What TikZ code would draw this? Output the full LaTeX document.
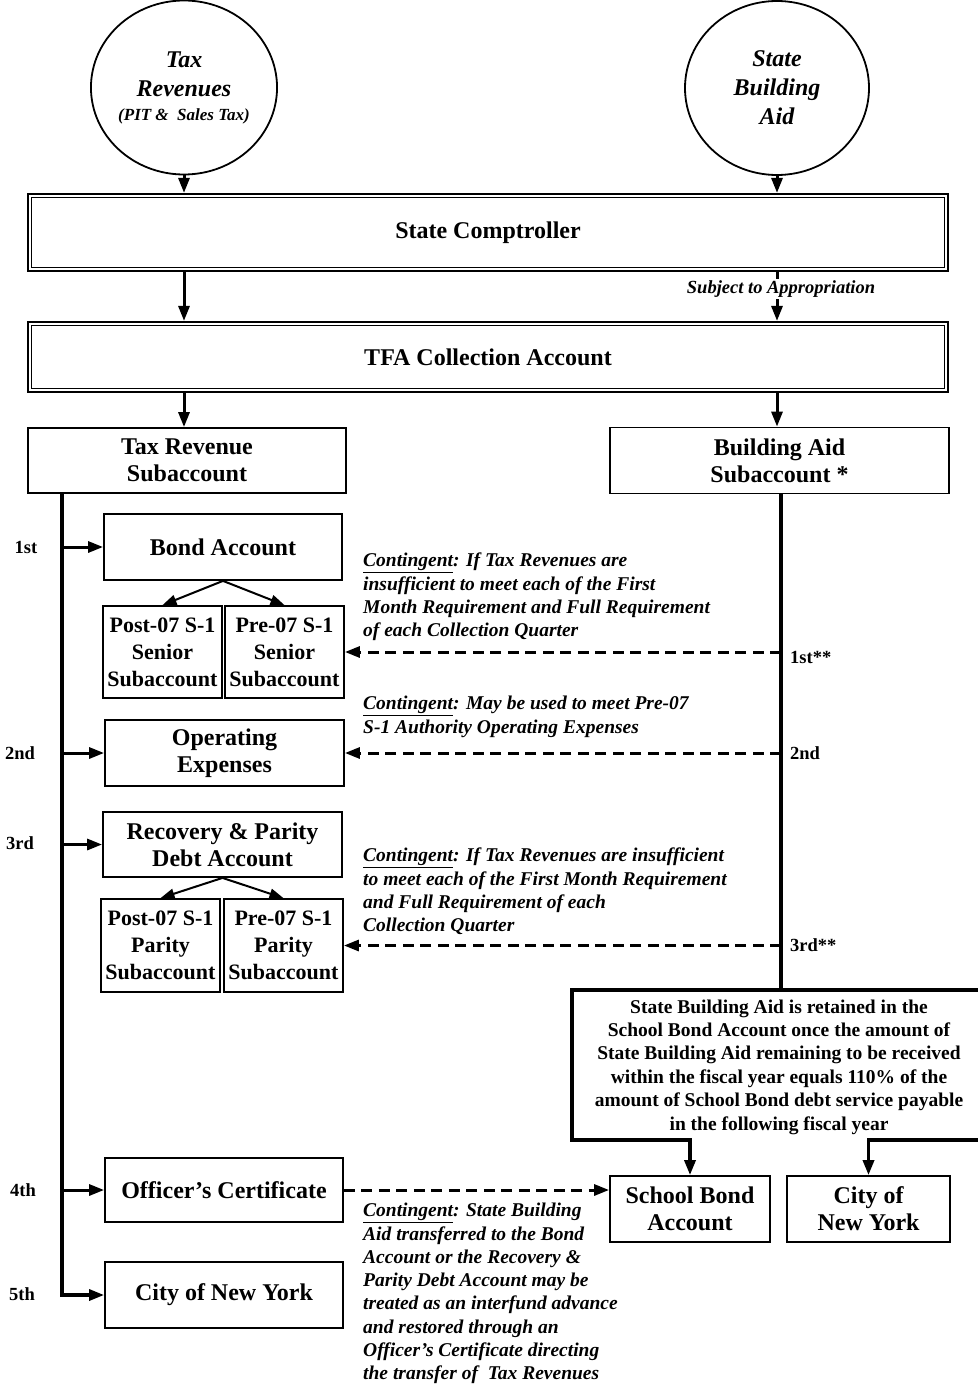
\documentclass[tikz,border=0pt]{standalone}
\usepackage{fontspec}
\setmainfont{Liberation Serif}
\usetikzlibrary{arrows.meta,calc,shapes.geometric}
\newcommand\bxf{\fontsize{24}{27}\selectfont\bfseries}
\newcommand\cif{\fontsize{24}{29}\selectfont\bfseries\itshape}
\newcommand\itf{\fontsize{19.5}{23.3}\selectfont\bfseries\itshape}
\newcommand\bgf{\fontsize{19.5}{23.4}\selectfont\bfseries}
\newcommand\lbf{\fontsize{18.5}{20}\selectfont\bfseries}
\begin{document}
\begin{tikzpicture}[x=1pt,y=-1pt,
  every node/.style={inner sep=0pt},
  bx/.style={draw, line width=1.8pt, align=center, font=\bxf},
  circ/.style={draw, ellipse, line width=1.8pt, minimum width=184pt, minimum height=174pt, align=center, font=\cif},
  arr/.style={-{Triangle[length=15pt,width=11pt]}, line width=3pt},
  sarr/.style={-{Triangle[length=14pt,width=10pt]}, line width=2pt},
  dsh/.style={dash pattern=on 11pt off 6.5pt},
  lbl/.style={font=\lbf},
  note/.style={font=\itf, align=left, anchor=north west}]
\useasboundingbox (0,0) rectangle (977,1386);
\fill[white] (0,0) rectangle (977,1386);

% circles
\node[circ] (tax) at (184,87.5) {Tax\\Revenues\\[-5pt]{\fontsize{17}{19}\selectfont (PIT \&\ \ Sales Tax)}};
\node[circ] (aid) at (777,88) {State\\Building\\Aid};

% double boxes
\node[draw, line width=2.2pt, minimum width=920pt, minimum height=77pt, font=\bxf] (comp) at (488,232.5) {State Comptroller};
\draw[line width=1.4pt] ($(comp.north west)+(4.5,4.5)$) rectangle ($(comp.south east)+(-4.5,-4.5)$);
\node[draw, line width=2.2pt, minimum width=920pt, minimum height=70pt, font=\bxf] (tfa) at (488,357) {TFA Collection Account};
\draw[line width=1.4pt] ($(tfa.north west)+(4.5,4.5)$) rectangle ($(tfa.south east)+(-4.5,-4.5)$);

% subaccounts
\node[bx, minimum width=318pt, minimum height=65pt] (trs) at (187,460.5) {Tax Revenue\\Subaccount};
\node[bx, minimum width=339pt, minimum height=66pt] (bas) at (779.5,460.5) {Building Aid\\Subaccount *};

% left column boxes
\node[bx, minimum width=238pt, minimum height=66pt] (bond) at (223,547) {Bond Account};
\node[bx, minimum width=119pt, minimum height=92pt, font=\fontsize{22}{27}\selectfont\bfseries] (sen1) at (162.5,652) {Post-07 S-1\\Senior\\Subaccount};
\node[bx, minimum width=119pt, minimum height=92pt, font=\fontsize{22}{27}\selectfont\bfseries] (sen2) at (284.5,652) {Pre-07 S-1\\Senior\\Subaccount};
\node[bx, minimum width=239pt, minimum height=66pt] (opex) at (224.5,753) {Operating\\Expenses};
\node[bx, minimum width=239pt, minimum height=65pt] (rpd) at (222.5,844.5) {Recovery \& Parity\\Debt Account};
\node[bx, minimum width=119pt, minimum height=93pt, font=\fontsize{22}{27}\selectfont\bfseries] (par1) at (160.5,945.5) {Post-07 S-1\\Parity\\Subaccount};
\node[bx, minimum width=119pt, minimum height=93pt, font=\fontsize{22}{27}\selectfont\bfseries] (par2) at (283.5,945.5) {Pre-07 S-1\\Parity\\Subaccount};
\node[bx, minimum width=238pt, minimum height=64pt] (oc) at (224,1190) {Officer's Certificate};
\node[bx, minimum width=238pt, minimum height=66pt] (cny) at (224,1295) {City of New York};

% right bottom boxes
\node[bx, minimum width=160pt, minimum height=66pt] (sba) at (690,1209) {School Bond\\Account};
\node[bx, minimum width=163pt, minimum height=66pt] (cny2) at (868.5,1209) {City of\\New York};

% top arrows
\draw[arr] (tax.south) -- (tax.south |- comp.north);
\draw[arr] (aid.south) -- (aid.south |- comp.north);
\draw[arr] (tax |- comp.south) -- (tax |- tfa.north);
\draw[arr] (aid |- comp.south) -- (aid |- tfa.north);
\node[fill=white, inner sep=1.5pt, font=\fontsize{18.5}{20}\selectfont\bfseries\itshape] (subj) at (781,289) {Subject to Appropriation};
\draw[arr] (tax |- tfa.south) -- (tax |- trs.north);
\draw[arr] (aid |- tfa.south) -- (aid |- bas.north);

% left spine
\coordinate (sp) at (62,0);
\draw[arr, line width=3.2pt] (sp |- trs.south) |- (cny.west);
\draw[arr] (sp |- bond.west) -- (bond.west);
\draw[arr] (sp |- opex.west) -- (opex.west);
\draw[arr] (sp |- rpd.west) -- (rpd.west);
\draw[arr] (sp |- oc.west) -- (oc.west);
\node[lbl] (l1) at (26,547) {1st};
\node[lbl] (l2) at (20,753) {2nd};
\node[lbl] (l3) at (20,843) {3rd};
\node[lbl] (l4) at (23,1190) {4th};
\node[lbl] (l5) at (22,1294) {5th};

% split arrows
\draw[sarr] (bond.south) -- (sen1.north);
\draw[sarr] (bond.south) -- (sen2.north);
\draw[sarr] (rpd.south) -- (par1.north);
\draw[sarr] (rpd.south) -- (par2.north);

% right spine
\coordinate (rs) at (781,0);
\coordinate (bbtl) at (572,990);
\coordinate (bbtr) at (985,990);
\coordinate (bbbl) at (572,1140);
\coordinate (bbbr) at (985,1140);
\draw[line width=3.2pt] (rs |- bas.south) -- (rs |- bbtl);
\draw[arr, line width=3.4pt] (bbtr) -- (bbtl) -- (bbbl) -| (sba.north);
\draw[arr, line width=3.4pt] (bbbr) -| (cny2.north);
\node[font=\bgf, align=center] (bigtxt) at (779,1067) {State Building Aid is retained in the\\School Bond Account once the amount of\\State Building Aid remaining to be received\\within the fiscal year equals 110\% of the\\amount of School Bond debt service payable\\in the following fiscal year};

% dashed contingent arrows
\draw[arr, dsh] (rs |- sen2.east) -- (sen2.east);
\draw[arr, dsh] (rs |- opex.east) -- (opex.east);
\draw[arr, dsh] (rs |- par2.east) -- (par2.east);
\draw[arr, dsh] (oc.east) -- (oc.east -| sba.west);
\node[lbl, anchor=west] (r1) at (790,657) {1st**};
\node[lbl, anchor=west] (r2) at (790,753) {2nd};
\node[lbl, anchor=west] (r3) at (790,945) {3rd**};

% notes
\node[note] (n1) at (363,553) {\underline{Contingent}: If Tax Revenues are\\insufficient to meet each of the First\\Month Requirement and Full Requirement\\of each Collection Quarter};
\node[note] (n2) at (363,696) {\underline{Contingent}: May be used to meet Pre-07\\S-1 Authority Operating Expenses};
\node[note] (n3) at (363,848) {\underline{Contingent}: If Tax Revenues are insufficient\\to meet each of the First Month Requirement\\and Full Requirement of each\\Collection Quarter};
\node[note] (n4) at (363,1203) {\underline{Contingent}: State Building\\Aid transferred to the Bond\\Account or the Recovery \&\\Parity Debt Account may be\\treated as an interfund advance\\and restored through an\\Officer's Certificate directing\\the transfer of\ \ Tax Revenues};
\end{tikzpicture}
\end{document}
